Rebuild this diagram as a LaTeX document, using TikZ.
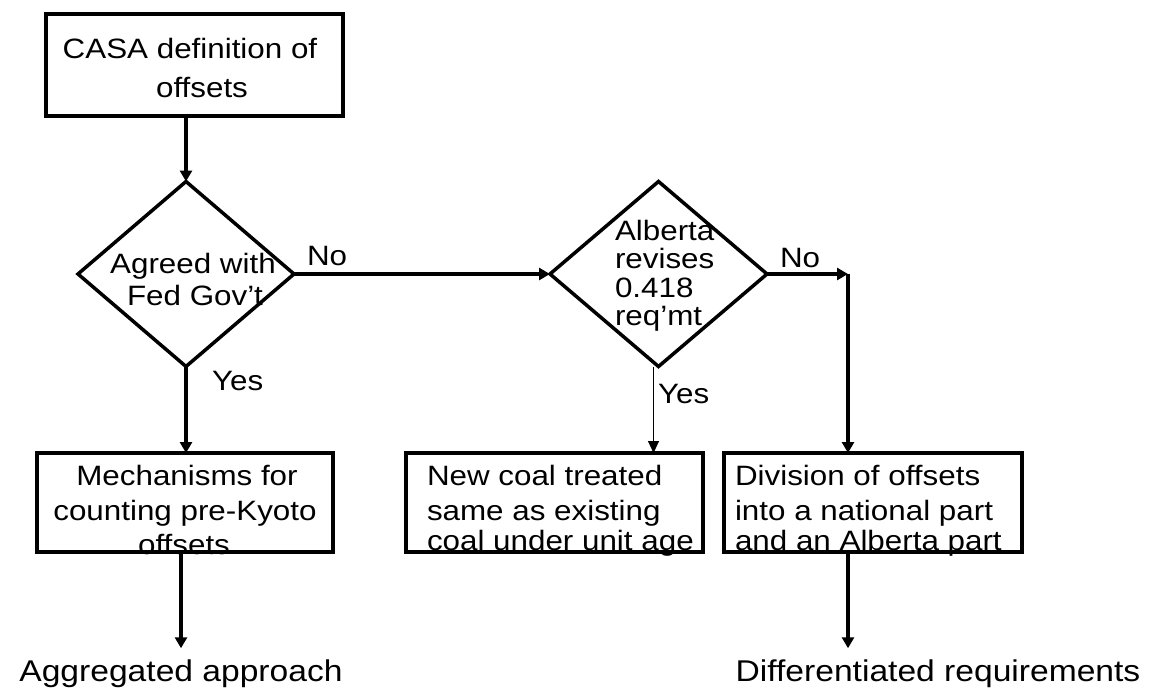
\documentclass[tikz,border=0pt]{standalone}
\usepackage{fontspec}
\setmainfont{Liberation Sans}[FakeStretch=1.12]
\usetikzlibrary{shapes.geometric,arrows.meta}
\begin{document}
\begin{tikzpicture}[x=1pt,y=-1pt,
  box/.style={draw, line width=3.5pt, rectangle, inner sep=0pt, outer sep=0pt},
  dia/.style={draw, line width=3.5pt, diamond, inner sep=0pt, outer sep=0pt},
  txt/.style={inner sep=0pt, outer sep=0pt, font=\fontsize{28}{34}\selectfont, anchor=base},
  txtl/.style={txt, anchor=base west},
  big/.style={inner sep=0pt, outer sep=0pt, font=\fontsize{30}{36}\selectfont, anchor=base},
  arr/.style={line width=3.5pt, -{Triangle[length=11pt,width=12pt]}},
  thinarr/.style={line width=1pt, -{Triangle[length=12pt,width=11pt]}}]
\path[use as bounding box, fill=white] (0,0) rectangle (1155,696);

% texts
\node[txt] (casa1) at (190,58) {CASA definition of};
\node[txt] (casa2) at (202,97) {offsets};

\node[txt] (d1a) at (193,273) {Agreed with};
\node[txt] (d1b) at (195,305) {Fed Gov’t};

\node[txtl] (d2a) at (615,240) {Alberta};
\node[txtl] (d2b) at (615,268) {revises};
\node[txtl] (d2c) at (615,297) {0.418};
\node[txtl] (d2d) at (615,325) {req’mt};

\node[txt] (m1) at (187,485) {Mechanisms for};
\node[txt] (m2) at (185,520) {counting pre-Kyoto};
\node[txt] (m3) at (184,554) {offsets};

\node[txtl] (c1) at (427,485) {New coal treated};
\node[txtl] (c2) at (427,520) {same as existing};
\node[txtl] (c3) at (427,550) {coal under unit age};

\node[txtl] (v1) at (735,485) {Division of offsets};
\node[txtl] (v2) at (735,520) {into a national part};
\node[txtl] (v3) at (735,550) {and an Alberta part};

\node[txtl] (no1) at (307,265) {No};
\node[txtl] (no2) at (780,267) {No};
\node[txtl] (yes1) at (212,390) {Yes};
\node[txtl] (yes2) at (658,403) {Yes};

\node[big] (agg) at (181,681) {Aggregated approach};
\node[big] (diff) at (938,681) {Differentiated requirements};

% shapes
\node[box, minimum width=297pt, minimum height=102pt] (casa) at (194.5,65) {};
\node[dia, minimum width=216pt, minimum height=185pt] (d1) at (186,274) {};
\node[dia, minimum width=217pt, minimum height=185pt] (d2) at (658.5,274) {};
\node[box, minimum width=296pt, minimum height=99pt] (mech) at (185,502.5) {};
\node[box, minimum width=297pt, minimum height=99pt] (coal) at (554.5,502.5) {};
\node[box, minimum width=298pt, minimum height=99pt] (div) at (873,502.5) {};

% connectors
\coordinate (corner) at (848,274);
\coordinate (ys) at ([xshift=-5pt]d2.south);
\draw[arr] (casa.south -| d1.north) -- (d1.north);
\draw[arr] (d1.east) -- (d2.west);
\draw[arr] (d1.south) -- (mech.north -| d1.south);
\draw[arr] (d2.east) -- (corner);
\draw[arr] (corner) -- (div.north -| corner);
\draw[thinarr] (ys) -- (coal.north -| ys);
\draw[arr, shorten >=11pt] (mech.south -| agg.north) -- (agg.north);
\draw[arr, shorten >=11pt] (div.south -| corner) -- (corner |- diff.north);
\end{tikzpicture}
\end{document}
